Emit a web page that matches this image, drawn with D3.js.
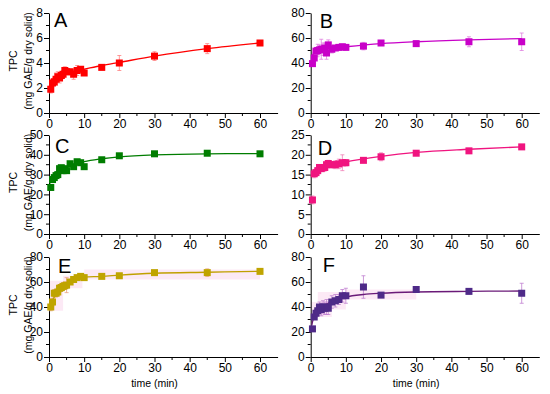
<!DOCTYPE html>
<html>
<head>
<meta charset="utf-8">
<script src="https://cdn.jsdelivr.net/npm/d3@7"></script>
<style>
  body { margin: 0; background: #fff; }
  svg { font-family: "Liberation Sans", Arial, sans-serif; }
  .axis path, .axis line { stroke: #000; }
  .axis text { font-size: 12px; fill: #000; }
</style>
</head>
<body>
<script>
// sampling times (min)
var times = [0.5, 1, 1.5, 2, 2.5, 3, 3.5, 4, 4.5, 5, 6, 7, 8, 9, 10, 15, 20, 30, 45, 60];

// measured TPC per panel
var tpcA = [1.9, 2.4, 2.5, 2.7, 2.9, 2.8, 3.0, 3.1, 3.4, 3.3, 3.3, 3.1, 3.4, 3.5, 3.2, 3.65, 4.0, 4.55, 5.15, 5.6];
var tpcB = [39.5, 44, 49.5, 50, 50.5, 51, 51, 52, 48, 54.5, 51, 52, 52.5, 53, 52.5, 53.5, 56, 55.5, 57, 57];
var tpcC = [23.5, 27.5, 28.5, 29.5, 30, 33, 33.5, 32, 33, 32, 35.5, 34, 36.5, 36, 34, 37.5, 39.5, 40.5, 40.8, 40.5];
var tpcD = [8.6, 15.2, 15.5, 16, 16.8, 16.5, 16.7, 16.8, 17.5, 17.8, 17.5, 17.5, 17.7, 18, 18, 18.6, 19.5, 20.4, 21, 22];
var tpcE = [40, 44, 51, 51, 52, 55, 55.5, 56.5, 57, 57.5, 60, 62, 63.5, 64.5, 63.5, 64.5, 65, 67.5, 67.5, 68.5];
var tpcF = [22.5, 32, 35, 37, 40, 38, 40, 39, 40, 39, 44, 45, 46, 49, 49, 56, 49.5, 54, 52.5, 51];

// error bars (+/-)
var errA = [0.3, 0.3, 0.3, 0.5, 0.4, 0.4, 0.3, 0.3, 0.3, 0.2, 0.2, 0.4, 0.4, 0.2, 0.2, 0.2, 0.6, 0.35, 0.4, 0.15];
var errB = [2, 4, 3, 5, 4, 8, 5, 4, 5, 4, 3, 2, 2, 2, 2, 3, 1.5, 2, 4, 7];
var errC = [1, 1, 1, 1, 1, 1, 1, 1.5, 1, 1, 1, 1, 1, 1, 1, 0.8, 1, 1.2, 0.8, 0.8];
var errD = [1, 1, 0.8, 0.8, 0.6, 0.6, 0.6, 0.6, 0.6, 0.8, 0.8, 1, 1.2, 2, 0.8, 0.5, 1, 0.4, 0.4, 0.3];
var errE = [3, 3, 3, 3, 3, 3, 3, 3, 3, 6, 2, 2, 1.5, 1.5, 1, 1, 1, 1.5, 3, 1.5];
var errF = [2, 2, 3, 4, 4, 5, 5, 5, 6, 5, 5, 5, 4, 5, 6, 9, 1.5, 2, 2, 8];

// fitted curves
var fitTA = [0.3, 0.5, 1, 2, 3, 5, 10, 15, 20, 30, 45, 60];
var fitA = [2.25, 2.35, 2.5, 2.75, 2.95, 3.2, 3.5, 3.8, 4.05, 4.55, 5.15, 5.6];
var fitTB = [0.3, 0.5, 1, 2, 5, 10, 20, 30, 45, 60];
var fitB = [44, 46, 48, 50, 51.5, 53, 55.5, 57, 58.5, 59.5];
var fitTC = [0.3, 0.5, 1, 2, 3, 5, 8, 10, 15, 20, 30, 45, 60];
var fitC = [25.5, 26.5, 28, 30, 31.5, 33.5, 35.5, 36.5, 38, 39, 40, 40.5, 40.6];
var fitTD = [0.3, 0.5, 1, 2, 3, 5, 10, 20, 30, 45, 60];
var fitD = [14.6, 14.8, 15.3, 16, 16.5, 17.2, 18.2, 19.6, 20.6, 21.4, 22];
var fitTE = [0.5, 1, 2, 3, 5, 7, 9, 10, 15, 20, 30, 45, 60];
var fitE = [40, 45, 50, 54, 58, 61.5, 63.5, 64, 64.5, 65.5, 67, 67.8, 68.5];
var fitTF = [0.3, 0.5, 1, 2, 3, 5, 7, 10, 15, 20, 30, 45, 60];
var fitF = [25, 28, 32, 37, 40, 43, 45.5, 48, 50, 51, 52, 52.5, 52.8];

// faint pink patches seen behind panels E and F: [t0, t1, y0, y1]
var patchE = [[0, 4, 37, 61], [4, 9.5, 55, 65], [10, 60, 62, 70]];
var patchF = [[0, 6, 32, 44], [2, 10, 38, 52], [10, 30, 46, 54]];

var labels = ["A", "B", "C", "D", "E", "F"];
var yMax = [8, 80, 50, 25, 80, 80];
var yStep = [2, 20, 10, 5, 20, 20];
var markColor = ["#ff0000", "#c800c8", "#007d00", "#f0147f", "#bfa400", "#4e2a88"];
var lineColor = ["#ff0000", "#c800c8", "#007d00", "#f0147f", "#c0a000", "#6a1a78"];
var errColor = ["#ff8080", "#e080e0", "#60b060", "#f080b8", "#e8a080", "#c080d0"];

var series = [tpcA, tpcB, tpcC, tpcD, tpcE, tpcF];
var errs = [errA, errB, errC, errD, errE, errF];
var fitTs = [fitTA, fitTB, fitTC, fitTD, fitTE, fitTF];
var fits = [fitA, fitB, fitC, fitD, fitE, fitF];
var patches = [[], [], [], [], patchE, patchF];

var width = 550, height = 394;
var svg = d3.select("body").append("svg")
  .attr("width", width)
  .attr("height", height);

var colX = [49, 310.7];
var rowY = [[13, 113], [135, 234], [257, 357]];
var unitW = 211 / 60;
var letterDx = [5, 9, 6, 7, 9, 12];
var letterDy = [14, 15, 18, 20, 16, 15];

labels.forEach(function(lab, i) {
  var col = i % 2, row = Math.floor(i / 2);
  var x = d3.scaleLinear().domain([0, 65]).range([colX[col], colX[col] + 65 * unitW]);
  var y = d3.scaleLinear().domain([0, yMax[i]]).range([rowY[row][1], rowY[row][0]]);
  var g = svg.append("g");

  // pink patches
  g.selectAll("rect.patch").data(patches[i]).enter().append("rect")
    .attr("x", function(d) { return x(d[0]); })
    .attr("width", function(d) { return x(d[1]) - x(d[0]); })
    .attr("y", function(d) { return y(d[3]); })
    .attr("height", function(d) { return y(d[2]) - y(d[3]); })
    .attr("fill", "#fbe3f3")
    .attr("opacity", 0.8);

  // minor ticks
  var xMinor = d3.range(5, 60, 10);
  g.selectAll("line.xm").data(xMinor).enter().append("line")
    .attr("x1", function(d) { return x(d); }).attr("x2", function(d) { return x(d); })
    .attr("y1", y(0)).attr("y2", y(0) + 3)
    .attr("stroke", "#000");
  var yMinor = d3.range(yStep[i] / 2, yMax[i], yStep[i]);
  g.selectAll("line.ym").data(yMinor).enter().append("line")
    .attr("y1", function(d) { return y(d); }).attr("y2", function(d) { return y(d); })
    .attr("x1", x(0)).attr("x2", x(0) - 3)
    .attr("stroke", "#000");

  g.append("g").attr("class", "axis")
    .attr("transform", "translate(0," + y(0) + ")")
    .call(d3.axisBottom(x).tickValues(d3.range(0, 61, 10)).tickSize(5).tickSizeOuter(0).tickPadding(1));

  g.append("g").attr("class", "axis")
    .attr("transform", "translate(" + x(0) + ",0)")
    .call(d3.axisLeft(y).tickValues(d3.range(0, yMax[i] + 0.001, yStep[i])).tickSize(5).tickSizeOuter(0).tickPadding(1));

  // error bars
  var data = times.map(function(t, k) { return { t: t, v: series[i][k], e: errs[i][k] }; });
  var eb = g.selectAll("g.eb").data(data).enter().append("g")
    .attr("stroke", errColor[i]).attr("stroke-width", 0.8);
  eb.append("line")
    .attr("x1", function(d) { return x(d.t); }).attr("x2", function(d) { return x(d.t); })
    .attr("y1", function(d) { return y(d.v - d.e); }).attr("y2", function(d) { return y(d.v + d.e); });
  eb.append("line")
    .attr("x1", function(d) { return x(d.t) - 2; }).attr("x2", function(d) { return x(d.t) + 2; })
    .attr("y1", function(d) { return y(d.v + d.e); }).attr("y2", function(d) { return y(d.v + d.e); });
  eb.append("line")
    .attr("x1", function(d) { return x(d.t) - 2; }).attr("x2", function(d) { return x(d.t) + 2; })
    .attr("y1", function(d) { return y(d.v - d.e); }).attr("y2", function(d) { return y(d.v - d.e); });

  // fitted line
  var fitData = fitTs[i].map(function(t, k) { return [t, fits[i][k]]; });
  g.append("path")
    .datum(fitData)
    .attr("fill", "none")
    .attr("stroke", lineColor[i])
    .attr("stroke-width", 1.3)
    .attr("d", d3.line().x(function(d) { return x(d[0]); }).y(function(d) { return y(d[1]); }).curve(d3.curveMonotoneX));

  // markers
  g.selectAll("rect.pt").data(data).enter().append("rect")
    .attr("x", function(d) { return x(d.t) - 3.5; })
    .attr("y", function(d) { return y(d.v) - 3.5; })
    .attr("width", 7).attr("height", 7)
    .attr("fill", markColor[i]);

  // panel letter
  g.append("text")
    .attr("x", x(0) + letterDx[i])
    .attr("y", rowY[row][0] + letterDy[i])
    .attr("font-size", "20px")
    .text(lab);

  // y title (left column)
  if (col === 0) {
    var cy = (rowY[row][0] + rowY[row][1]) / 2 - 2;
    g.append("text")
      .attr("transform", "translate(17," + cy + ") rotate(-90)")
      .attr("text-anchor", "middle")
      .attr("font-size", "10.5px")
      .text("TPC");
    g.append("text")
      .attr("transform", "translate(32," + cy + ") rotate(-90)")
      .attr("text-anchor", "middle")
      .attr("font-size", "10.5px")
      .text("(mg GAE/g dry solid)");
  }

  // x title (bottom row)
  if (row === 2) {
    g.append("text")
      .attr("x", x(30))
      .attr("y", 387)
      .attr("text-anchor", "middle")
      .attr("font-size", "10.5px")
      .text("time (min)");
  }
});
</script>
</body>
</html>
